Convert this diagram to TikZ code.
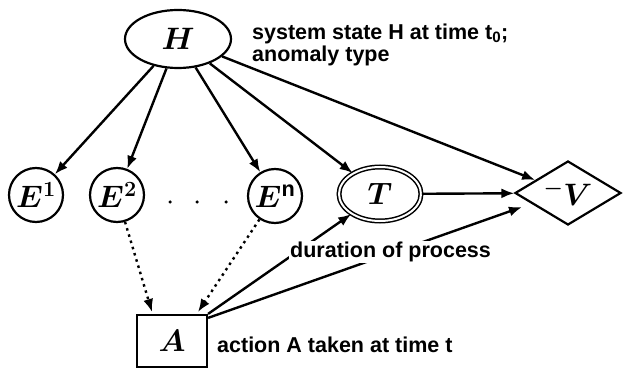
\RequirePackage{fix-cm}
\documentclass[tikz,border=0pt]{standalone}
\usepackage{fontspec}
\setmainfont{Liberation Sans}
\usetikzlibrary{shapes.geometric,arrows.meta}
\begin{document}
\begin{tikzpicture}[x=1pt,y=-1pt,
  lbl/.style={font=\fontsize{21.5}{23}\selectfont\bfseries, anchor=west, inner sep=1pt},
  var/.style={font=\fontsize{31}{31}\selectfont\boldmath, line width=2.2pt, inner sep=0pt},
  arr/.style={line width=2.4pt, -{Latex[length=13pt,width=10pt]}},
  darr/.style={arr, dash pattern=on 2.5pt off 4pt},
  dot/.style={circle, fill, inner sep=0pt, minimum size=3.5pt}
]
\useasboundingbox (0,0) rectangle (623,371);

\node[var, draw, ellipse, minimum width=106pt, minimum height=58pt] (H) at (178,39) {$H$};
\node[var, draw, circle, minimum size=54pt] (E1) at (36,195) {$E^{1}$};
\node[var, draw, circle, minimum size=54pt] (E2) at (117,195) {$E^{2}$};
\node[var, draw, circle, minimum size=54pt] (En) at (275,196) {$E^{\mathrm{n}}$};
\node[dot] (d1) at (170,202) {};
\node[dot] (d2) at (197,202) {};
\node[dot] (d3) at (226,202) {};
\node[var, draw, ellipse, line width=1.5pt, double, double distance=2pt, minimum width=82pt, minimum height=54pt] (T) at (380,194) {$T$};
\node[var, draw, diamond, aspect=1.7, minimum width=106pt, minimum height=64pt] (V) at (568,193) {${}^{-}V$};
\node[var, draw, rectangle, minimum width=70pt, minimum height=52pt] (A) at (172,341) {$A$};

\draw[arr] (H) -- (E1);
\draw[arr] (H) -- (E2);
\draw[arr] (H) -- (En);
\draw[arr] (H) -- (T);
\draw[arr] (H) -- (V);
\draw[arr] (T) -- (V);
\coordinate (Ain1) at (152,312);
\coordinate (Ain2) at (198,312);
\draw[darr] (E2) -- (Ain1);
\draw[darr] (En) -- (Ain2);
\coordinate (Vl) at (522,207);
\draw[arr] (A.north east) -- (T);
\draw[arr] ([yshift=-4pt]A.north east) -- (Vl);

\node[lbl] (t1) at (251,34) {system state H at time t\textsubscript{0};};
\node[lbl] (t2) at (251,56) {anomaly type};
\node[lbl, fill=white] (t3) at (289,252) {duration of process};
\node[lbl] (t4) at (216,345) {action A taken at time t};
\end{tikzpicture}
\end{document}
